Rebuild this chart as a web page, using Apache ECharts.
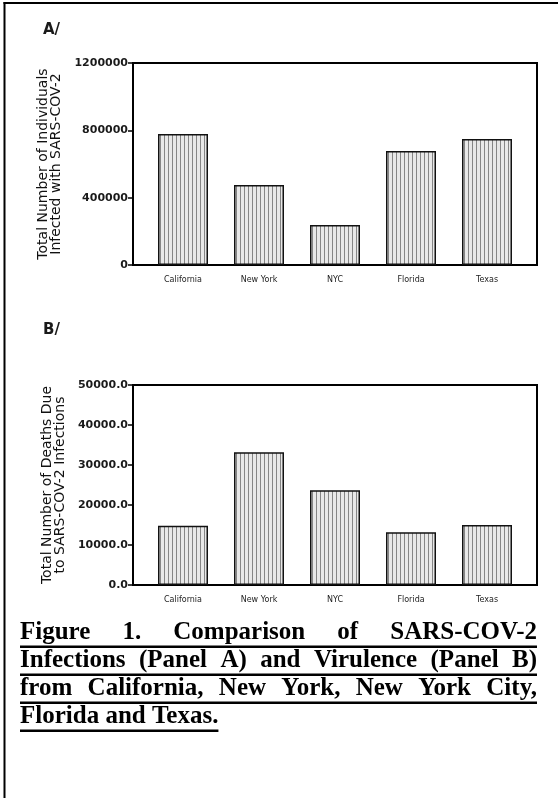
<!DOCTYPE html>
<html><head><meta charset="utf-8">
<script src="https://cdn.jsdelivr.net/npm/echarts@6/dist/echarts.min.js"></script>
<style>html,body{margin:0;padding:0;background:#fff}#c{width:558px;height:798px}</style>
</head><body><div id="c"></div>
<script>
// ---- data ----
const categories = ['California', 'New York', 'NYC', 'Florida', 'Texas'];
const infections = [778000, 475000, 238000, 677000, 749000];
const deaths = [14800, 33200, 23700, 13200, 15000];
const ticksA = [0, 400000, 800000, 1200000];
const ticksB = [0, 10000, 20000, 30000, 40000, 50000];
const nameA = 'Total Number of Individuals\nInfected with SARS-COV-2';
const nameB = 'Total Number of Deaths Due\nto SARS-COV-2 Infections';
const panelLabels = ['A/', 'B/'];
const captionLines = [
  'Figure 1. Comparison of SARS-COV-2',
  'Infections (Panel A) and Virulence (Panel B)',
  'from California, New York, New York City,',
  'Florida and Texas.'
];

// ---- hatch pattern ----
const pc = document.createElement('canvas');
pc.width = 4; pc.height = 4;
const pctx = pc.getContext('2d');
pctx.fillStyle = '#e8e8e8'; pctx.fillRect(0, 0, 4, 4);
pctx.fillStyle = '#858585'; pctx.fillRect(0, 0, 1, 4);
const hatch = { image: pc, repeat: 'repeat' };

const chart = echarts.init(document.getElementById('c'), null, { renderer: 'canvas' });

const frameA = { left: 133, right: 21, top: 63, bottom: 533 };
const frameB = { left: 133, right: 21, top: 385, bottom: 213 };
function inner(f) { return { left: f.left + 12, right: f.right + 12, top: f.top, bottom: f.bottom }; }

function frameGrid(f) {
  return Object.assign({ show: true, borderColor: '#000', borderWidth: 2, backgroundColor: 'transparent', containLabel: false }, f);
}
function barGrid(f) { return Object.assign({ show: false, containLabel: false }, inner(f)); }

function valueAxis(gi, ticks, name, fmt) {
  return {
    type: 'value', gridIndex: gi,
    min: ticks[0], max: ticks[ticks.length - 1], interval: ticks[1] - ticks[0],
    axisLine: { show: true, lineStyle: { color: '#000', width: 2 } },
    axisTick: { show: true, inside: false, length: 5, lineStyle: { color: '#000', width: 1.5 } },
    axisLabel: { margin: 5, color: '#1a1a1a', fontFamily: 'DejaVu Sans', fontWeight: 'bold', fontSize: 11, formatter: fmt },
    splitLine: { show: false },
    name: name, nameLocation: 'middle', nameGap: 62,
    nameTextStyle: { fontFamily: 'DejaVu Sans', fontSize: 14, lineHeight: 13, color: '#111' }
  };
}
function hiddenValueAxis(gi, ticks) {
  return { type: 'value', gridIndex: gi, show: false, min: ticks[0], max: ticks[ticks.length - 1], splitLine: { show: false } };
}
function catAxis(gi) {
  return {
    type: 'category', gridIndex: gi, data: categories,
    axisLine: { show: false },
    axisTick: { show: true, inside: true, alignWithLabel: true, length: 4, lineStyle: { color: '#000', width: 2 } },
    axisLabel: { margin: 11, color: '#222', fontFamily: 'DejaVu Sans', fontSize: 8 },
    splitLine: { show: false }
  };
}
function hiddenCatAxis(gi) { return { type: 'category', gridIndex: gi, data: categories, show: false }; }

function barSeries(xi, yi, data) {
  return {
    type: 'bar', xAxisIndex: xi, yAxisIndex: yi, data: data, barWidth: 50,
    itemStyle: { color: hatch, borderColor: '#111', borderWidth: 1.5 },
    emphasis: { disabled: true }, silent: true, animation: false
  };
}

// ---- caption (justified, underlined) ----
const capFont = 'bold 25px "Liberation Serif"';
const mctx = document.createElement('canvas').getContext('2d');
mctx.font = capFont;
const capLeft = 20, capRight = 537, capTop = 633, capStep = 28;
const graphics = [
  { type: 'rect', shape: { x: 3.5, y: 2, width: 2, height: 796 }, style: { fill: '#000' } },
  { type: 'rect', shape: { x: 3.5, y: 2, width: 555, height: 2 }, style: { fill: '#000' } },
  { type: 'text', x: 43, y: 30.5, style: { text: panelLabels[0], font: 'bold 15px "DejaVu Sans"', fill: '#1a1a1a', verticalAlign: 'middle' } },
  { type: 'text', x: 43, y: 330, style: { text: panelLabels[1], font: 'bold 15px "DejaVu Sans"', fill: '#1a1a1a', verticalAlign: 'middle' } }
];
captionLines.forEach(function (line, i) {
  const words = line.split(' ');
  const widths = words.map(function (w) { return mctx.measureText(w).width; });
  const total = widths.reduce(function (a, b) { return a + b; }, 0);
  const last = i === captionLines.length - 1;
  const gap = last ? mctx.measureText(' ').width : (capRight - capLeft - total) / (words.length - 1);
  let x = capLeft;
  const y = capTop + i * capStep;
  words.forEach(function (w, j) {
    graphics.push({ type: 'text', x: x, y: y, style: { text: w, font: capFont, fill: '#000', align: 'left', verticalAlign: 'middle' } });
    x += widths[j] + gap;
  });
  const endX = last ? x - gap : capRight;
  graphics.push({ type: 'rect', shape: { x: capLeft, y: y + 12.5, width: endX - capLeft, height: 2.5 }, style: { fill: '#000' } });
});

chart.setOption({
  animation: false,
  backgroundColor: '#fff',
  grid: [frameGrid(frameA), barGrid(frameA), frameGrid(frameB), barGrid(frameB)],
  xAxis: [hiddenCatAxis(0), catAxis(1), hiddenCatAxis(2), catAxis(3)],
  yAxis: [
    valueAxis(0, ticksA, nameA, function (v) { return String(v); }),
    hiddenValueAxis(1, ticksA),
    valueAxis(2, ticksB, nameB, function (v) { return v.toFixed(1); }),
    hiddenValueAxis(3, ticksB)
  ],
  series: [barSeries(1, 1, infections), barSeries(3, 3, deaths)],
  graphic: graphics
});
</script>
</body></html>
